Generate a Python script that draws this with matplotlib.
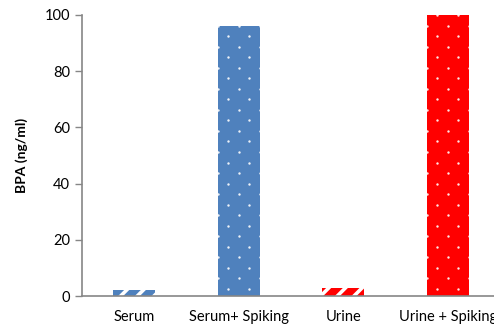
import matplotlib.pyplot as plt
import numpy as np

# ---------------- DATA ----------------
categories = ["Serum", "Serum+ Spiking", "Urine", "Urine + Spiking"]
bpa_values = [2.2, 96.2, 3.0, 100.0]
bar_colors = ["#4F81BD", "#4F81BD", "#FF0000", "#FF0000"]
bar_fills = ["stripes", "dots", "stripes", "dots"]
y_ticks = [0, 20, 40, 60, 80, 100]
# --------------------------------------

plt.rcParams["font.family"] = ["Lato", "DejaVu Sans"]
plt.rcParams["hatch.linewidth"] = 2.6

W, H = 494, 324
fig = plt.figure(figsize=(W / 100, H / 100), dpi=100)
ax = fig.add_axes([82 / W, 28 / H, 418 / W, 281 / H])

ax.set_xlim(-0.5, len(categories) - 0.5)
ax.set_ylim(0, 100)

x = np.arange(len(categories))

# staggered dot pattern, clipped to each dotted bar
dot_dx, dot_dy = 0.2, 3.75
rows = np.arange(2.5, 101, dot_dy)

for xi, val, col, fill in zip(x, bpa_values, bar_colors, bar_fills):
    if fill == "stripes":
        ax.bar(xi, val, width=0.4, color=col, edgecolor="white", hatch="//", linewidth=0)
        continue
    bars = ax.bar(xi, val, width=0.4, color=col, linewidth=0)
    patch = bars[0]
    px, py = [], []
    for k, yy in enumerate(rows):
        off = 0.1 if k % 2 else 0.0
        cols = np.arange(xi - 0.3 + off, xi + 0.3, dot_dx)
        px.extend(cols)
        py.extend([yy] * len(cols))
    dots = ax.scatter(px, py, s=3, color="white", alpha=0.9, linewidths=0, zorder=3)
    dots.set_clip_path(patch)

ax.set_yticks(y_ticks)
ax.set_xticks(x)
ax.set_xticklabels(categories, fontsize=10.5)
ax.tick_params(axis="x", length=0, pad=10)
ax.tick_params(axis="y", length=5, width=1, color="#868686", labelsize=10.5, direction="out")
ax.set_ylabel("BPA (ng/ml)", fontsize=10, fontweight="bold", labelpad=12)

for side in ["top", "right"]:
    ax.spines[side].set_visible(False)
for side in ["left", "bottom"]:
    ax.spines[side].set_color("#868686")
    ax.spines[side].set_linewidth(1.2)

fig.savefig("out.png", dpi=100)
